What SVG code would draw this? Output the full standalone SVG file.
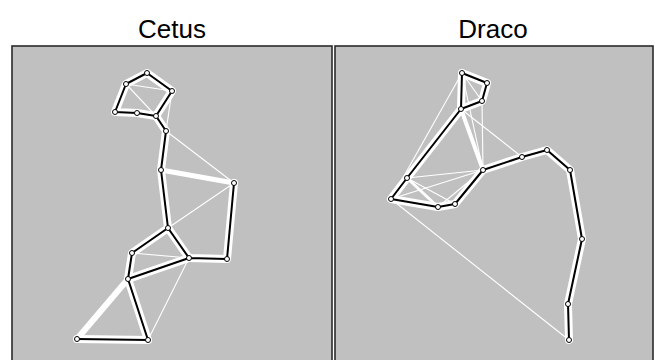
<svg xmlns="http://www.w3.org/2000/svg" width="655" height="360" viewBox="0 0 655 360">
<style>
.title{font-family:"Liberation Sans",Arial,sans-serif;font-size:26px;fill:#000;text-anchor:middle}
.panel{fill:#c0c0c0;stroke:#2a2a2a;stroke-width:1.6}
.halo{fill:none;stroke:#ffffff;stroke-width:8;stroke-linecap:round;stroke-linejoin:round}
.blk{stroke:#000;stroke-width:2;stroke-linecap:round;stroke-linejoin:round;fill:none}
.thin{stroke:#fff;stroke-width:1.1;fill:none}
.wide{stroke:#fff;fill:none;stroke-linecap:round}
.node circle{fill:#fff;stroke:#000;stroke-width:1}
</style>
<rect x="0" y="0" width="655" height="360" fill="#fff"/>
<text class="title" x="172" y="38">Cetus</text>
<text class="title" x="493" y="38">Draco</text>
<rect class="panel" x="12" y="46" width="320" height="330"/>
<rect class="panel" x="335" y="46" width="318" height="330"/>
<g id="connectors">
 <g id="cetus-halo">
  <path class="halo" d="M126,84 L147,73 L172,91 L156,116 L137,113 L115,112 Z"/>
  <path class="halo" d="M156,116 L166,131 L161,170 L168,228 L132,253 L128,279 L148,340 L77,339"/>
  <path class="halo" d="M168,228 L189,258 L227,259 L234,183"/>
  <path class="halo" d="M128,279 L189,258"/>
 </g>
 <g id="cetus-thin">
  <line class="thin" x1="126" y1="84" x2="172" y2="91"/>
  <line class="thin" x1="126" y1="84" x2="156" y2="116"/>
  <line class="thin" x1="172" y1="91" x2="166" y2="131"/>
  <line class="thin" x1="166" y1="131" x2="234" y2="183"/>
  <line class="thin" x1="168" y1="228" x2="234" y2="183"/>
  <line class="thin" x1="132" y1="253" x2="189" y2="258"/>
  <line class="thin" x1="189" y1="258" x2="148" y2="340"/>
  <line class="wide" stroke-width="5" x1="161" y1="170" x2="234" y2="183"/>
  <line class="wide" stroke-width="6" x1="128" y1="279" x2="77" y2="339"/>
 </g>
 <g id="cetus-black">
  <path class="blk" d="M126,84 L147,73 L172,91 L156,116 L137,113 L115,112 Z M156,116 L166,131 L161,170 L168,228 L132,253 L128,279 L148,340 L77,339 M168,228 L189,258 L227,259 L234,183 M128,279 L189,258"/>
 </g>
 <g id="draco-halo">
  <path class="halo" d="M462,73 L487,83 L482,101 L461,109 Z"/>
  <path class="halo" d="M461,109 L407,178 L391,199 L438,207 L455,204 L483,170 L522,157 L547,150 L570,170 L582,239 L568,304 L569,340"/>
 </g>
 <g id="draco-thin">
  <line class="thin" x1="462" y1="73" x2="482" y2="101"/>
  <line class="thin" x1="462" y1="73" x2="483" y2="170"/>
  <line class="thin" x1="482" y1="101" x2="483" y2="170"/>
  <line class="thin" x1="462" y1="73" x2="391" y2="199"/>
  <line class="thin" x1="461" y1="109" x2="522" y2="157"/>
  <line class="thin" x1="407" y1="178" x2="483" y2="170"/>
  <line class="thin" x1="391" y1="199" x2="483" y2="170"/>
  <line class="thin" x1="438" y1="207" x2="483" y2="170"/>
  <line class="thin" x1="407" y1="178" x2="455" y2="204"/>
  <line class="thin" x1="391" y1="199" x2="569" y2="340"/>
  <line class="wide" stroke-width="4" x1="461" y1="109" x2="483" y2="170"/>
  <line class="wide" stroke-width="3" x1="407" y1="178" x2="438" y2="207"/>
 </g>
 <g id="draco-black">
  <path class="blk" d="M462,73 L487,83 L482,101 L461,109 Z M461,109 L407,178 L391,199 L438,207 L455,204 L483,170 L522,157 L547,150 L570,170 L582,239 L568,304 L569,340"/>
 </g>
</g>
<g id="cetus-nodes" class="node">
 <g id="c1"><circle cx="147" cy="73" r="2.5"/></g>
 <g id="c2"><circle cx="126" cy="84" r="2.5"/></g>
 <g id="c3"><circle cx="172" cy="91" r="2.5"/></g>
 <g id="c4"><circle cx="115" cy="112" r="2.5"/></g>
 <g id="c5"><circle cx="137" cy="113" r="2.5"/></g>
 <g id="c6"><circle cx="156" cy="116" r="2.5"/></g>
 <g id="c7"><circle cx="166" cy="131" r="2.5"/></g>
 <g id="c8"><circle cx="161" cy="170" r="2.5"/></g>
 <g id="c9"><circle cx="234" cy="183" r="2.5"/></g>
 <g id="c10"><circle cx="168" cy="228" r="2.5"/></g>
 <g id="c11"><circle cx="189" cy="258" r="2.5"/></g>
 <g id="c12"><circle cx="227" cy="259" r="2.5"/></g>
 <g id="c13"><circle cx="132" cy="253" r="2.5"/></g>
 <g id="c14"><circle cx="128" cy="279" r="2.5"/></g>
 <g id="c15"><circle cx="77" cy="339" r="2.5"/></g>
 <g id="c16"><circle cx="148" cy="340" r="2.5"/></g>
</g>
<g id="draco-nodes" class="node">
 <g id="d1"><circle cx="462" cy="73" r="2.5"/></g>
 <g id="d2"><circle cx="487" cy="83" r="2.5"/></g>
 <g id="d3"><circle cx="482" cy="101" r="2.5"/></g>
 <g id="d4"><circle cx="461" cy="109" r="2.5"/></g>
 <g id="d5"><circle cx="483" cy="170" r="2.5"/></g>
 <g id="d6"><circle cx="407" cy="178" r="2.5"/></g>
 <g id="d7"><circle cx="391" cy="199" r="2.5"/></g>
 <g id="d8"><circle cx="438" cy="207" r="2.5"/></g>
 <g id="d9"><circle cx="455" cy="204" r="2.5"/></g>
 <g id="d10"><circle cx="522" cy="157" r="2.5"/></g>
 <g id="d11"><circle cx="547" cy="150" r="2.5"/></g>
 <g id="d12"><circle cx="570" cy="170" r="2.5"/></g>
 <g id="d13"><circle cx="582" cy="239" r="2.5"/></g>
 <g id="d14"><circle cx="568" cy="304" r="2.5"/></g>
 <g id="d15"><circle cx="569" cy="340" r="2.5"/></g>
</g>
</svg>
